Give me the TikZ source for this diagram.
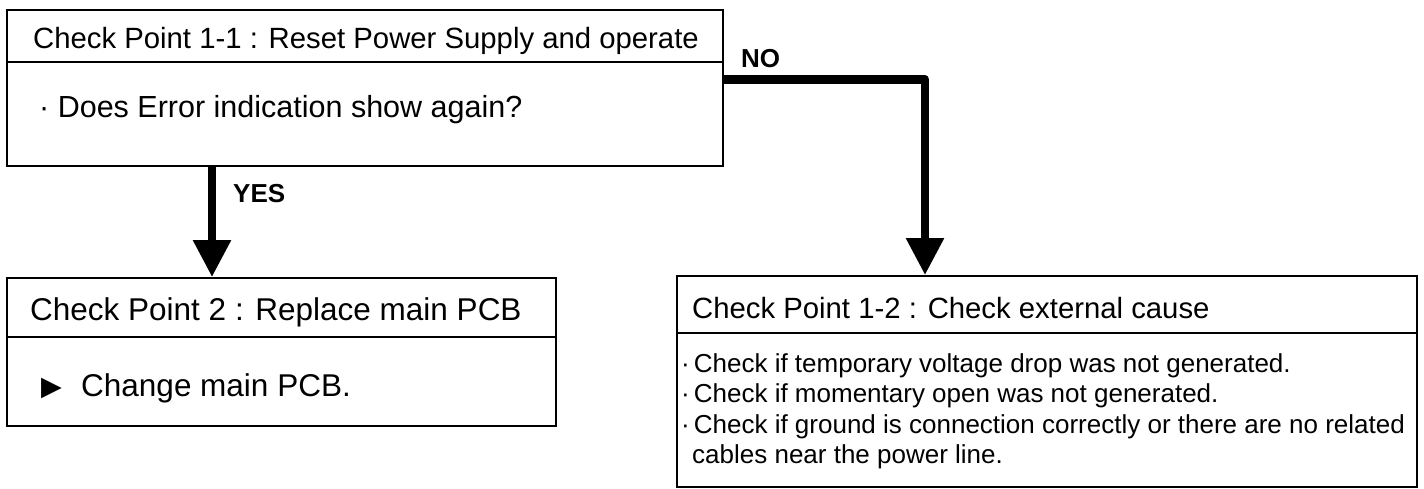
\documentclass[tikz,border=0pt]{standalone}
\usepackage{fontspec}
\setmainfont{Liberation Sans}
\newfontfamily\symfont{DejaVu Sans}
\usetikzlibrary{arrows.meta}
\tikzset{
  boxframe/.style={draw=black, line width=1.8pt, rectangle, inner sep=0pt},
  divider/.style={draw=black, line width=1.8pt},
  txt/.style={inner sep=0pt, anchor=base west},
  headtxt/.style={txt, font=\fontsize{29.3}{35}\selectfont},
  bodytxt/.style={txt, font=\fontsize{30.5}{36}\selectfont},
  pcbtxt/.style={txt, font=\fontsize{31.5}{37}\selectfont},
  smalltxt/.style={txt, font=\fontsize{26}{30.5}\selectfont},
  lbl/.style={txt, font=\fontsize{26}{31}\selectfont\bfseries},
  conn/.style={draw=black, line width=8.5pt, line join=round,
    -{Triangle[width=36pt,length=37pt]}},
}
\begin{document}
\begin{tikzpicture}[x=1pt,y=-1pt]
\useasboundingbox (0,0) rectangle (1424,488);
% box 1
\node[boxframe, minimum width=716pt, minimum height=156pt] (b1) at (365,88) {};
\draw[divider] (b1.west |- 0,62) -- (b1.east |- 0,62);
\node[headtxt] (h1) at (33,48) {Check Point 1-1 : Reset Power Supply and operate};
\node[bodytxt] (t1) at (39,117) {· Does Error indication show again?};
% box 2
\node[boxframe, minimum width=549pt, minimum height=148pt] (b2) at (281.5,352) {};
\draw[divider] (b2.west |- 0,337) -- (b2.east |- 0,337);
\node[pcbtxt] (h2) at (30,320) {Check Point 2 : Replace main PCB};
\node[txt, font=\symfont\fontsize{27}{30}\selectfont] (tri) at (41,395) {▶};
\node[pcbtxt] (t2) at (81,396) {Change main PCB.};
% box 3
\node[boxframe, minimum width=740pt, minimum height=211pt] (b3) at (1047,381.5) {};
\draw[divider] (b3.west |- 0,333) -- (b3.east |- 0,333);
\node[headtxt] (h3) at (692,318) {Check Point 1-2 : Check external cause};
\node[smalltxt] (l1) at (681,372) {·\kern4pt Check if temporary voltage drop was not generated.};
\node[smalltxt] (l2) at (681,402.5) {·\kern4pt Check if momentary open was not generated.};
\node[smalltxt] (l3) at (681,433) {·\kern4pt Check if ground is connection correctly or there are no related};
\node[smalltxt] (l4) at (692,463.5) {cables near the power line.};
% connectors
\coordinate (yesx) at (212,200);
\draw[conn] (b1.south -| yesx) -- (b2.north -| yesx);
\node[lbl] (yes) at (233,202) {YES};
\coordinate (noturn) at (925,79.5);
\draw[conn] (b1.east |- noturn) -- (noturn) -- (noturn |- b3.north);
\node[lbl] (no) at (741,67) {NO};
\end{tikzpicture}
\end{document}
